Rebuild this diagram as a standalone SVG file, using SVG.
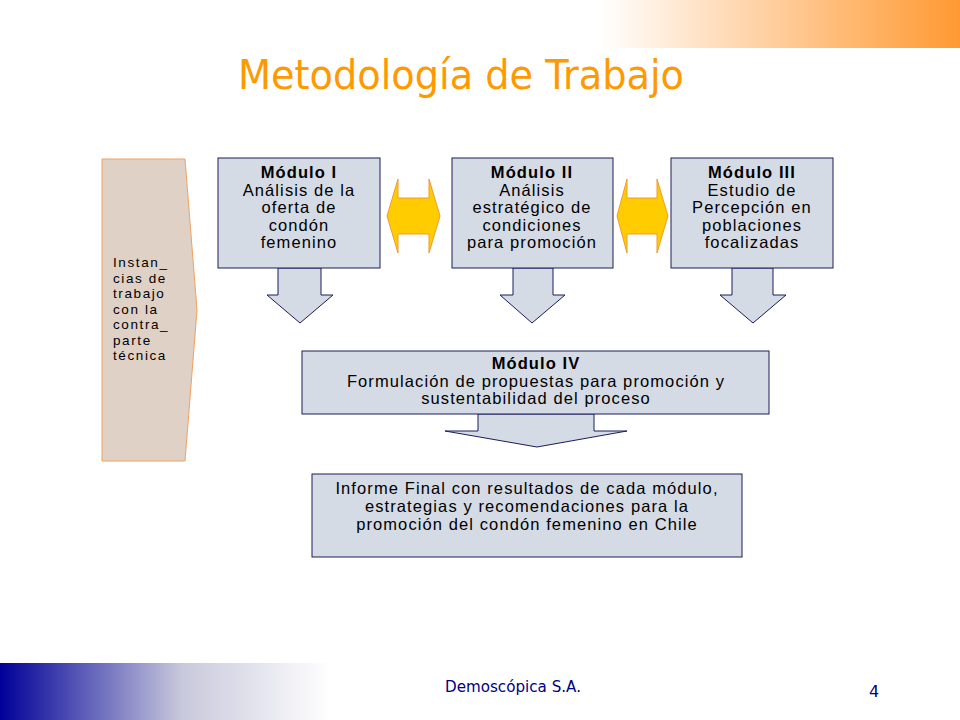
<svg xmlns="http://www.w3.org/2000/svg" width="960" height="720" viewBox="0 0 960 720">
  <defs>
    <linearGradient id="gTop" x1="0" y1="0" x2="1" y2="0">
      <stop offset="0" stop-color="#ffffff"/>
      <stop offset="1" stop-color="#ff9933"/>
    </linearGradient>
    <linearGradient id="gBot" x1="0" y1="0" x2="1" y2="0">
      <stop offset="0" stop-color="#000099"/>
      <stop offset="0.55" stop-color="#c8c8dc"/>
      <stop offset="1" stop-color="#ffffff"/>
    </linearGradient>
    <style>
      .box { fill: #d5dbe4; stroke: #1c1c5c; stroke-width: 1; }
      .dbl { fill: #ffcc00; stroke: #f09a30; stroke-width: 1; }
      .t { font-family: "Liberation Sans", Arial, sans-serif; font-size: 16.5px; fill: #000000; text-anchor: middle; letter-spacing: 1.1px; }
      .b { font-weight: bold; }
      .side { font-family: "Liberation Sans", Arial, sans-serif; font-size: 13.5px; fill: #000000; letter-spacing: 1.6px; }
    </style>
  </defs>
  <rect width="960" height="720" fill="#ffffff"/>
  <rect x="600" y="0" width="360" height="48" fill="url(#gTop)"/>
  <rect x="0" y="663" width="330" height="57" fill="url(#gBot)"/>
  <text x="238" y="89" font-family="DejaVu Sans, sans-serif" font-size="41" fill="#ff9900" textLength="446" lengthAdjust="spacingAndGlyphs">Metodología de Trabajo</text>

  <g id="instancias">
    <polygon points="102,159 185,159 197,310 185,461 102,461" fill="#dfd1c5" stroke="#f0a060" stroke-width="1"/>
    <text class="side" x="113" y="267">Instan_</text>
    <text class="side" x="113" y="282.5">cias de</text>
    <text class="side" x="113" y="298">trabajo</text>
    <text class="side" x="113" y="313.5">con la</text>
    <text class="side" x="113" y="329">contra_</text>
    <text class="side" x="113" y="344.5">parte</text>
    <text class="side" x="113" y="360">técnica</text>
  </g>

  <g id="connectors">
    <polygon class="dbl" points="387,216 398,179 398,198 429,198 429,179 440,216 429,253 429,234 398,234 398,253"/>
    <polygon class="dbl" points="617,216 627,179 627,198 657,198 657,179 668,216 657,253 657,234 627,234 627,253"/>
  </g>

  <g id="modulo1">
    <polygon class="box" points="278,268 278,295 267,295 300,323 333,295 321,295 321,268"/>
    <rect class="box" x="218" y="158" width="162" height="110"/>
    <text class="t b" x="299" y="178">Módulo I</text>
    <text class="t" x="299" y="195.5">Análisis de la</text>
    <text class="t" x="299" y="213">oferta de</text>
    <text class="t" x="299" y="230.5">condón</text>
    <text class="t" x="299" y="248">femenino</text>
  </g>

  <g id="modulo2">
    <polygon class="box" points="513,268 513,295 500,295 532,323 565,295 553,295 553,268"/>
    <rect class="box" x="452" y="158" width="161" height="110"/>
    <text class="t b" x="532" y="178">Módulo II</text>
    <text class="t" x="532" y="195.5">Análisis</text>
    <text class="t" x="532" y="213">estratégico de</text>
    <text class="t" x="532" y="230.5">condiciones</text>
    <text class="t" x="532" y="248">para promoción</text>
  </g>

  <g id="modulo3">
    <polygon class="box" points="732,268 732,295 720,295 753,323 786,295 773,295 773,268"/>
    <rect class="box" x="671" y="158" width="162" height="110"/>
    <text class="t b" x="752" y="178">Módulo III</text>
    <text class="t" x="752" y="195.5">Estudio de</text>
    <text class="t" x="752" y="213">Percepción en</text>
    <text class="t" x="752" y="230.5">poblaciones</text>
    <text class="t" x="752" y="248">focalizadas</text>
  </g>

  <g id="modulo4">
    <polygon class="box" points="478,414 478,431 445,431 537,447 627,431 594,431 594,414"/>
    <rect class="box" x="302" y="351" width="467" height="63"/>
    <text class="t b" x="536" y="369">Módulo IV</text>
    <text class="t" x="536" y="386.5">Formulación de propuestas para promoción y</text>
    <text class="t" x="536" y="404">sustentabilidad del proceso</text>
  </g>

  <g id="informe">
    <rect class="box" x="312" y="474" width="430" height="83"/>
    <text class="t" x="527" y="494">Informe Final con resultados de cada módulo,</text>
    <text class="t" x="527" y="512">estrategias y recomendaciones para la</text>
    <text class="t" x="527" y="529.5">promoción del condón femenino en Chile</text>
  </g>

  <text x="445" y="692" font-family="DejaVu Sans, sans-serif" font-size="15" fill="#000080" textLength="136" lengthAdjust="spacingAndGlyphs">Demoscópica S.A.</text>
  <text x="869" y="697" font-family="DejaVu Sans, sans-serif" font-size="16" fill="#000080">4</text>
</svg>
